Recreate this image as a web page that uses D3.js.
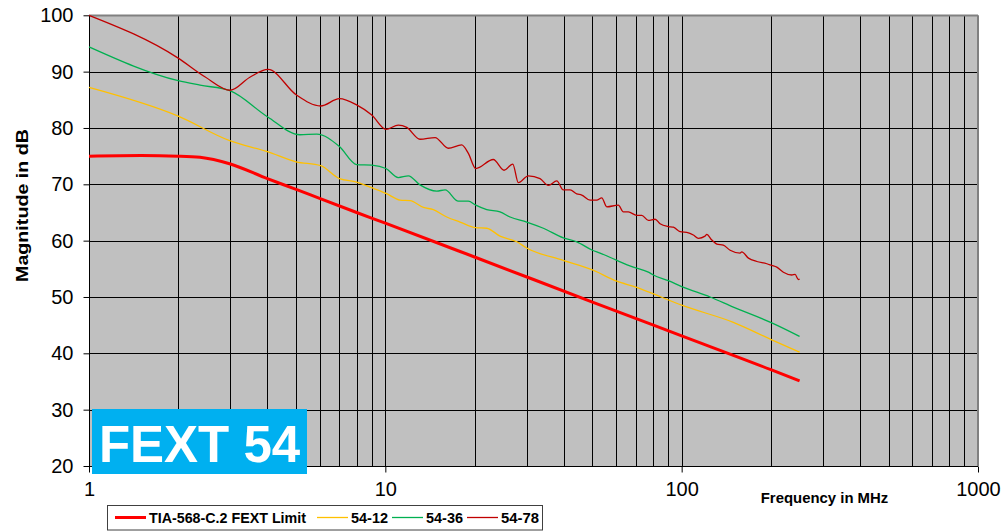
<!DOCTYPE html>
<html>
<head>
<meta charset="utf-8">
<script src="https://cdn.jsdelivr.net/npm/d3@7/dist/d3.min.js"></script>
<style>
  html, body { margin: 0; padding: 0; background: #ffffff; }
  svg { display: block; font-family: "Liberation Sans", Arial, sans-serif; }
</style>
</head>
<body>
<svg id="chart" width="1002" height="532"></svg>
<script>
// ---------- data (frequency in MHz, magnitude in dB) ----------
const limitFreq = [1, 1.5, 2, 2.37, 3, 4, 5, 6, 8, 10, 20, 50, 100, 200, 250];
const limitVals = [75, 75.1, 75, 74.8, 73.6, 71.0, 69.1, 67.5, 65.0, 63.1, 57.1, 49.1, 43.1, 37.1, 35.1];

const s12Freq = [1, 2, 3, 4, 5, 6.05, 7, 8, 9, 10.05, 11.21, 12.12, 13.44, 14.52, 16.12, 17.87, 20.19, 21.99, 24.38, 27.77, 30.0, 39.87, 50.0, 60.4, 70.53, 77.2, 100.5, 149.4, 201.4, 250];
const s12Vals = [87.2, 82.1, 77.7, 75.8, 74.0, 73.3, 71.0, 70.4, 69.4, 68.4, 67.2, 67.1, 65.9, 65.5, 64.2, 63.3, 62.3, 62.2, 60.8, 59.8, 58.7, 56.5, 54.8, 52.8, 51.7, 50.9, 48.5, 45.5, 42.4, 40.2];

const s36Freq = [1, 2, 2.37, 3, 4, 5.15, 5.87, 7, 8, 9, 10.05, 11.06, 11.96, 13.09, 14.91, 15.91, 17.64, 19.06, 20.19, 21.99, 24.38, 26.36, 30.0, 34.14, 39.87, 44.26, 50.0, 53.04, 60.4, 68.71, 77.2, 80.25, 90.19, 100.5, 124.7, 149.4, 201.4, 250];
const s36Vals = [94.4, 88.4, 87.6, 86.6, 82.0, 78.8, 78.9, 76.7, 73.5, 73.4, 72.8, 71.2, 71.5, 69.9, 68.8, 69.0, 67.0, 67.0, 66.3, 65.5, 65.1, 64.2, 63.3, 62.2, 60.5, 59.8, 58.3, 57.8, 56.5, 55.3, 54.4, 53.9, 52.9, 51.8, 50.0, 48.2, 45.4, 43.0];

const s78Freq = [1, 2.0, 2.46, 3.0, 3.49, 4.02, 5.0, 6.05, 7.0, 8.0, 9.0, 10.05, 11.06, 11.81, 13.09, 14.72, 16.32, 18.10, 19.06, 20.19, 23.14, 25.16, 26.92, 28.11, 30.38, 33.27, 35.49, 37.89, 39.87, 42.02, 44.26, 46.01, 49.08, 51.69, 53.74, 55.87, 61.14, 63.57, 66.07, 70.53, 73.34, 77.21, 81.33, 84.55, 90.19, 93.76, 98.76, 105.4, 109.5, 113.9, 119.9, 121.5, 126.4, 131.4, 138.2, 145.7, 157.4, 159.5, 168.0, 179.2, 193.8, 201.4, 209.4, 220.4, 235.3, 241.4, 247.6, 250];
const s78Vals = [100, 92.4, 89.1, 86.7, 89.0, 90.4, 85.9, 83.9, 85.2, 84.1, 82.3, 79.75, 80.5, 80.1, 78.0, 78.3, 76.4, 77.0, 75.5, 72.8, 74.4, 72.5, 73.6, 70.3, 71.5, 71.0, 69.8, 70.6, 69.0, 69.0, 68.3, 68.1, 67.2, 67.2, 67.6, 66.0, 66.3, 65.1, 65.1, 64.5, 64.5, 63.6, 63.8, 63.0, 62.5, 62.4, 61.6, 61.4, 61.0, 60.4, 60.8, 61.1, 60.1, 59.4, 59.2, 58.3, 57.8, 58.0, 56.9, 56.3, 55.9, 55.6, 55.3, 54.4, 53.9, 54.0, 53.1, 53.2];

const seriesNames = ["TIA-568-C.2 FEXT Limit", "54-12", "54-36", "54-78"];
const seriesColors = ["#FF0000", "#FFC000", "#00B050", "#C00000"];
const seriesWidths = [3, 1.3, 1.3, 1.3];

const yTicks = [20, 30, 40, 50, 60, 70, 80, 90, 100];
const xTicks = [1, 10, 100, 1000];
const xTickLabels = ["1", "10", "100", "1000"];
const xGrid = [];
[1, 10, 100].forEach(d => { for (let k = 1; k <= 9; k++) xGrid.push(d * k); });
xGrid.push(1000);

const xTitle = "Frequency in MHz";
const yTitle = "Magnitude in dB";
const badgeText = "FEXT 54";

// ---------- layout ----------
const svg = d3.select("#chart");
const L = 89, R = 978, T = 15.3, B = 466;

const x = d3.scaleLog().domain([1, 1000]).range([L, R]);
const y = d3.scaleLinear().domain([20, 100]).range([B, T]);

// plot background
svg.append("rect").attr("x", L).attr("y", T).attr("width", R - L).attr("height", B - T)
  .attr("fill", "#C0C0C0");

// vertical grid
svg.append("g").selectAll("line").data(xGrid.filter(v => v > 1 && v < 1000)).join("line")
  .attr("x1", d => Math.round(x(d)) + 0.5).attr("x2", d => Math.round(x(d)) + 0.5)
  .attr("y1", T).attr("y2", B)
  .attr("stroke", "#000").attr("stroke-width", 1);

// horizontal grid
svg.append("g").selectAll("line").data(yTicks.filter(v => v > 20 && v < 100)).join("line")
  .attr("x1", L).attr("x2", R)
  .attr("y1", d => Math.round(y(d)) + 0.5).attr("y2", d => Math.round(y(d)) + 0.5)
  .attr("stroke", "#000").attr("stroke-width", 1);

// plot border (top / right gray)
svg.append("line").attr("x1", L).attr("x2", R).attr("y1", Math.round(T) + 0.5).attr("y2", Math.round(T) + 0.5)
  .attr("stroke", "#808080").attr("stroke-width", 2);
svg.append("line").attr("x1", R).attr("x2", R).attr("y1", T).attr("y2", B)
  .attr("stroke", "#808080").attr("stroke-width", 2);

// axes
const yAxis = d3.axisLeft(y).tickValues(yTicks).tickSize(6).tickPadding(10).tickFormat(d3.format("d"));
const gy = svg.append("g").attr("transform", `translate(${L + 0.5},0)`).call(yAxis);
gy.select(".domain").attr("stroke", "#000").attr("d", `M-0,${T}V${B + 0.5}`);
gy.selectAll(".tick line").attr("stroke", "#000");
gy.selectAll(".tick text").attr("font-size", 20).attr("fill", "#000")
  .attr("font-family", "Liberation Sans, Arial, sans-serif");

const xAxis = d3.axisBottom(x).tickValues(xTicks).tickSize(6).tickPadding(9)
  .tickFormat((d, i) => xTickLabels[i]);
const gx = svg.append("g").attr("transform", `translate(0,${Math.round(B) + 0.5})`).call(xAxis);
gx.select(".domain").attr("stroke", "#000").attr("d", `M${L},0H${R}`);
gx.selectAll(".tick line").attr("stroke", "#000");
gx.selectAll(".tick text").attr("font-size", 20).attr("fill", "#000")
  .attr("font-family", "Liberation Sans, Arial, sans-serif");

// series
const seriesData = [
  limitFreq.map((f, i) => [f, limitVals[i]]),
  s12Freq.map((f, i) => [f, s12Vals[i]]),
  s36Freq.map((f, i) => [f, s36Vals[i]]),
  s78Freq.map((f, i) => [f, s78Vals[i]])
];
const line = d3.line().x(d => x(d[0])).y(d => y(d[1])).curve(d3.curveMonotoneX);
const drawOrder = [1, 2, 3, 0];
svg.append("g").selectAll("path").data(drawOrder).join("path")
  .attr("d", i => line(seriesData[i]))
  .attr("fill", "none")
  .attr("stroke", i => seriesColors[i])
  .attr("stroke-width", i => seriesWidths[i])
  .attr("stroke-linejoin", "round");

// badge
svg.append("rect").attr("x", 92).attr("y", 409).attr("width", 215).attr("height", 65).attr("fill", "#00B0F0");
svg.append("text").attr("x", 199.5).attr("y", 461.5).attr("text-anchor", "middle")
  .attr("font-size", 51).attr("font-weight", "bold").attr("fill", "#fff").text(badgeText);

// axis titles
svg.append("text").attr("transform", "translate(28,205.5) rotate(-90)")
  .attr("text-anchor", "middle").attr("font-size", 17).attr("font-weight", "bold")
  .attr("textLength", 153).attr("lengthAdjust", "spacingAndGlyphs").text(yTitle);
svg.append("text").attr("x", 824.5).attr("y", 503.3).attr("text-anchor", "middle")
  .attr("font-size", 14.5).attr("font-weight", "bold").attr("textLength", 127.5)
  .attr("lengthAdjust", "spacingAndGlyphs").text(xTitle);

// legend
svg.append("rect").attr("x", 107.5).attr("y", 505.5).attr("width", 435).attr("height", 24.5)
  .attr("fill", "#fff").attr("stroke", "#404040").attr("stroke-width", 1);
const legendX = [115, 317, 392, 467];
const legendTextLens = [157, 37, 37, 38];
const lg = svg.append("g").selectAll("g").data(seriesNames).join("g")
  .attr("transform", (d, i) => `translate(${legendX[i]},517.5)`);
lg.append("line").attr("x1", 0).attr("x2", 31).attr("y1", 0).attr("y2", 0)
  .attr("stroke", (d, i) => seriesColors[i]).attr("stroke-width", (d, i) => i === 0 ? 3 : 1.3);
lg.append("text").attr("x", 34).attr("y", 5.2).attr("font-size", 14).attr("font-weight", "bold")
  .attr("textLength", (d, i) => legendTextLens[i]).attr("lengthAdjust", "spacingAndGlyphs")
  .text(d => d);
</script>
</body>
</html>
